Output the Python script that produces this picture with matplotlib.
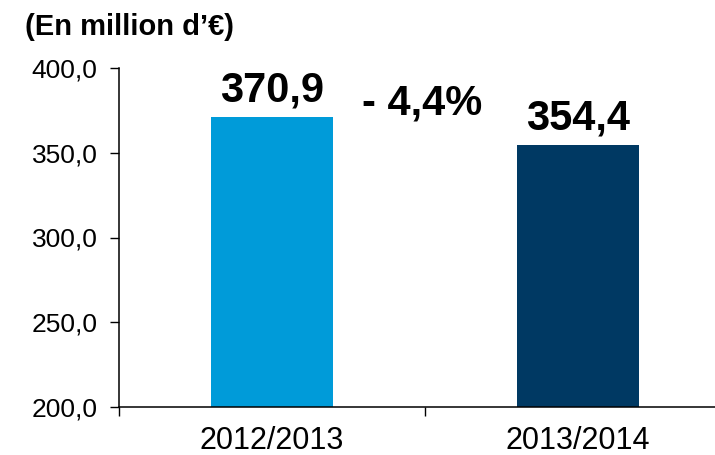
import matplotlib
matplotlib.use("Agg")
import matplotlib.pyplot as plt
from matplotlib.ticker import FuncFormatter, FixedLocator

plt.rcParams['font.family'] = ['Liberation Sans', 'DejaVu Sans']

# donnees
periodes = ["2012/2013", "2013/2014"]
valeurs = [370.9, 354.4]
etiquettes = ["370,9", "354,4"]
couleurs = ["#009BD9", "#003963"]
variation = "- 4,4%"
titre = "(En million d\u2019\u20ac)"

fig = plt.figure(figsize=(7.15, 4.55), dpi=100)
ax = fig.add_axes([119 / 715, 48 / 455, 612 / 715, 339 / 455])

x = list(range(len(periodes)))
ax.bar(x, valeurs, width=0.4, color=couleurs, zorder=2)

for xi, v, lab in zip(x, valeurs, etiquettes):
    ax.annotate(lab, (xi, v), xytext=(0, 11.5), textcoords="offset points",
                ha="center", va="baseline", fontsize=30, fontweight="bold")

ax.text(0.49, 372.3, variation, ha="center", va="baseline",
        fontsize=30, fontweight="bold")

ax.set_xlim(-0.5, 1.5)
ax.set_ylim(200, 400)
ax.set_yticks([200, 250, 300, 350, 400])
ax.yaxis.set_major_formatter(FuncFormatter(lambda v, p: ("%.1f" % v).replace(".", ",")))

# traits aux limites des categories, etiquettes au centre
ax.xaxis.set_major_locator(FixedLocator([-0.5, 0.5, 1.5]))
ax.xaxis.set_major_formatter(FuncFormatter(lambda v, p: ""))
ax.xaxis.set_minor_locator(FixedLocator(x))
ax.set_xticklabels(periodes, minor=True)
ax.tick_params(axis="x", which="minor", length=0, pad=13.5, labelsize=22)
ax.tick_params(axis="x", which="major", length=6.5, width=1, direction="out")
ax.tick_params(axis="y", length=6.5, width=1, pad=9, labelsize=19)

for s in ["top", "right"]:
    ax.spines[s].set_visible(False)
for s in ["left", "bottom"]:
    ax.spines[s].set_linewidth(1.1)
    ax.spines[s].set_color("black")

fig.text(25 / 715, 1 - 27 / 455, titre, ha="left", va="center",
         fontsize=21, fontweight="bold")

fig.savefig("out.png", dpi=100)
